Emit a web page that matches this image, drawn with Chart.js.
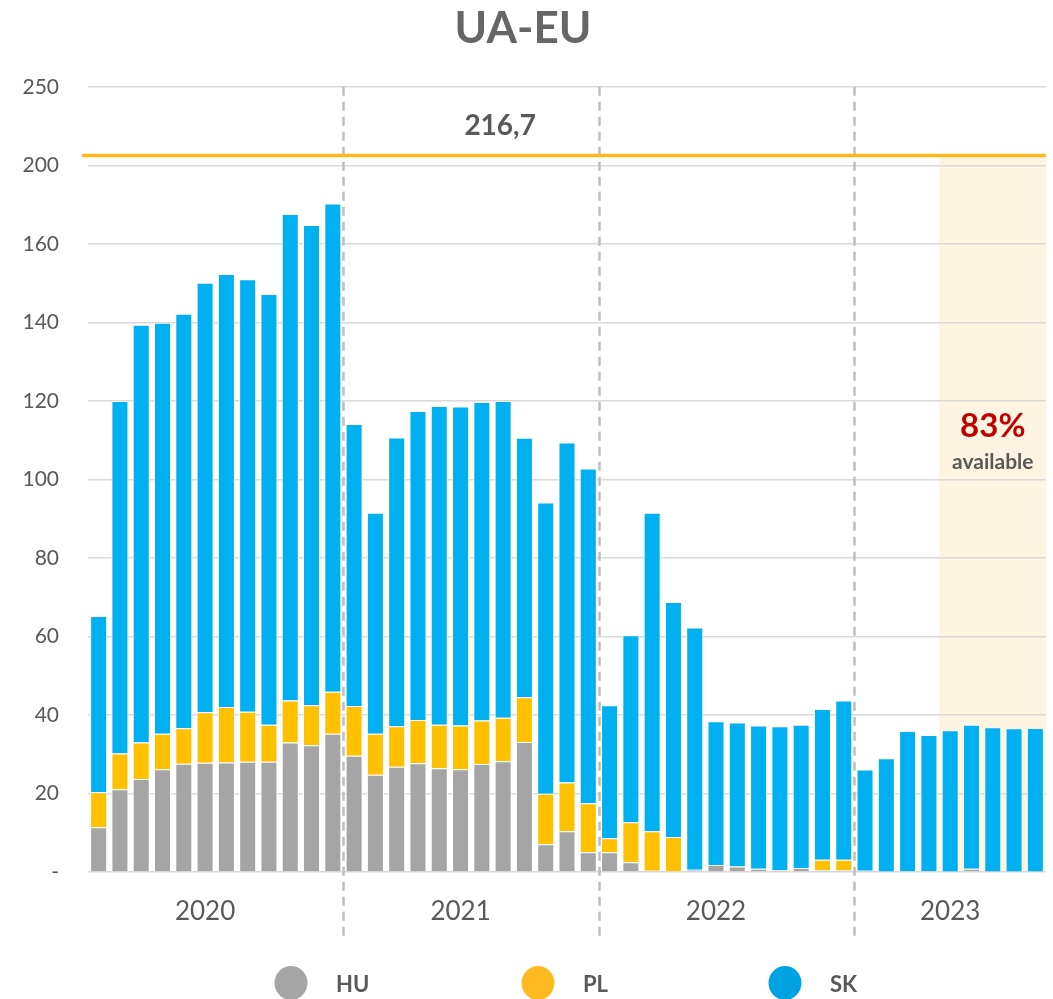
<!DOCTYPE html>
<html>
<head>
<meta charset="utf-8">
<script src="https://cdn.jsdelivr.net/npm/chart.js@4.4.1/dist/chart.umd.min.js"></script>
<style>
html,body{margin:0;padding:0;background:#ffffff;}
#wrap{width:1053px;height:999px;position:relative;}
canvas{display:block;}
</style>
</head>
<body>
<div id="wrap"><canvas id="c" width="1053" height="999"></canvas></div>
<script>
// ---------- DATA ----------
const categories = [
  '2020-01','2020-02','2020-03','2020-04','2020-05','2020-06','2020-07','2020-08','2020-09','2020-10','2020-11','2020-12',
  '2021-01','2021-02','2021-03','2021-04','2021-05','2021-06','2021-07','2021-08','2021-09','2021-10','2021-11','2021-12',
  '2022-01','2022-02','2022-03','2022-04','2022-05','2022-06','2022-07','2022-08','2022-09','2022-10','2022-11','2022-12',
  '2023-01','2023-02','2023-03','2023-04','2023-05','2023-06','2023-07','2023-08','2023-09'
];
const years = ['2020','2021','2022','2023'];
const yearStartIndex = [0, 12, 24, 36];
const yearMonthCount = [12, 12, 12, 9];

const huValues = [
  11.4,21.1,23.7,26.2,27.6,27.8,27.9,28.1,28.1,33.0,32.3,35.2,
  29.6,24.8,26.8,27.7,26.4,26.2,27.5,28.2,33.1,7.1,10.4,5.0,
  5.0,2.5,0.3,0.2,0.6,1.8,1.4,0.8,0.5,1.0,0.5,0.5,
  0.3,0.1,0.2,0.2,0.1,0.8,0.1,0.1,0.1
];
const plValues = [
  8.9,9.1,9.3,9.0,9.0,12.9,14.1,12.7,9.4,10.7,10.2,10.7,
  12.7,10.4,10.3,11.0,11.1,11.1,11.1,11.1,11.4,12.8,12.4,12.5,
  3.6,10.2,10.1,8.7,0,0,0,0,0,0,2.6,2.6,
  0,0,0,0,0,0,0,0,0
];
const skValues = [
  44.9,89.8,106.4,104.7,105.6,109.4,110.3,110.2,109.7,123.9,122.3,124.4,
  71.8,56.3,73.6,78.7,81.2,81.3,81.1,80.7,66.1,74.2,86.6,85.3,
  33.9,47.6,81.1,59.9,61.7,36.6,36.7,36.5,36.6,36.5,38.4,40.6,
  25.8,28.9,35.7,34.7,36.0,36.7,36.8,36.5,36.6
];

const yTickValues = [0,20,40,60,80,100,120,140,160,180,200];
const yTickLabels = ['-','20','40','60','80','100','120','140','160','200','250'];

const capacityLabel = '216,7';
const capacityAxisValue = 182.5;   // where the capacity line sits on the (broken) axis
const availableShareLabel = '83%';
const availableText = 'available';
const availableFromIndex = 40;      // first month of the highlighted period

const seriesNames = ['HU','PL','SK'];
const seriesColors = ['#A5A5A5','#FFC000','#00B0F0'];
const legendColors = ['#A5A5A5','#FFBA22','#00A3E0'];

// ---------- helpers ----------
const yearLabelAt = {};
years.forEach((y, k) => {
  yearLabelAt[yearStartIndex[k] + Math.floor((yearMonthCount[k] - 1) / 2)] = y;
});

const FONT = 'Lato, "Open Sans", "Noto Sans", sans-serif';
const TEXT = '#595959';

const overlay = {
  id: 'overlay',
  beforeDraw(chart) {
    const {ctx, chartArea: a, scales: {x, y}} = chart;
    const half = (x.getPixelForValue(1) - x.getPixelForValue(0)) / 2;
    const x0 = x.getPixelForValue(availableFromIndex) - half;
    const yTop = y.getPixelForValue(capacityAxisValue) + 2;
    ctx.save();
    ctx.fillStyle = '#FDF4E1';
    ctx.fillRect(x0, yTop, a.right - x0, a.bottom - yTop);
    ctx.restore();
  },
  afterDatasetsDraw(chart) {
    const {ctx, chartArea: a, scales: {x, y}} = chart;
    const half = (x.getPixelForValue(1) - x.getPixelForValue(0)) / 2;
    ctx.save();
    // year separators
    ctx.strokeStyle = '#BFBFBF';
    ctx.lineWidth = 2.5;
    ctx.setLineDash([9, 6]);
    for (let k = 1; k < yearStartIndex.length; k++) {
      const px = Math.round(x.getPixelForValue(yearStartIndex[k]) - half) + 0.5;
      ctx.beginPath();
      ctx.moveTo(px, a.top);
      ctx.lineTo(px, a.bottom + 68);
      ctx.stroke();
    }
    ctx.setLineDash([]);
    // capacity line
    const ly = y.getPixelForValue(capacityAxisValue);
    ctx.strokeStyle = '#FFB81C';
    ctx.lineWidth = 3.5;
    ctx.beginPath();
    ctx.moveTo(a.left - 6, ly);
    ctx.lineTo(a.right, ly);
    ctx.stroke();
    // capacity label
    ctx.fillStyle = TEXT;
    ctx.textAlign = 'center';
    ctx.textBaseline = 'middle';
    ctx.font = 'bold 28px ' + FONT;
    ctx.fillText(capacityLabel, x.getPixelForValue(19) - 3, ly - 30);
    // available share
    const x0 = x.getPixelForValue(availableFromIndex) - half;
    const cx = (x0 + a.right) / 2;
    ctx.fillStyle = '#C00000';
    ctx.font = 'bold 33px ' + FONT;
    ctx.fillText(availableShareLabel, cx, ly + 271);
    ctx.fillStyle = TEXT;
    ctx.font = 'bold 21px ' + FONT;
    ctx.fillText(availableText, cx, ly + 307);
    ctx.restore();
  },
  afterDraw(chart) {
    const {ctx} = chart;
    const centre = 538, gap = 247, cy = 983;
    ctx.save();
    ctx.font = 'bold 22px ' + FONT;
    ctx.textAlign = 'left';
    ctx.textBaseline = 'middle';
    seriesNames.forEach((name, i) => {
      const cx = centre + (i - 1) * gap;
      ctx.fillStyle = legendColors[i];
      ctx.beginPath();
      ctx.ellipse(cx, cy, 16.5, 17, 0, 0, Math.PI * 2);
      ctx.fill();
      ctx.fillStyle = TEXT;
      ctx.fillText(name, cx + 45, cy + 2);
    });
    ctx.restore();
  }
};

const mkSet = (i, data) => ({
  label: seriesNames[i],
  data: data,
  backgroundColor: seriesColors[i],
  borderColor: '#FFFFFF',
  borderWidth: 1,
  barPercentage: 0.8,
  categoryPercentage: 1.0
});

new Chart(document.getElementById('c'), {
  type: 'bar',
  data: {
    labels: categories,
    datasets: [mkSet(0, huValues), mkSet(1, plValues), mkSet(2, skValues)]
  },
  options: {
    responsive: false,
    animation: false,
    devicePixelRatio: 1,
    layout: {padding: {left: 0, right: 7, top: 0, bottom: 0}},
    plugins: {
      legend: {display: false},
      tooltip: {enabled: false},
      title: {
        display: true,
        text: 'UA-EU',
        color: '#666666',
        font: {family: FONT, size: 44, weight: 'bold'},
        padding: {top: 2, bottom: 32}
      }
    },
    scales: {
      x: {
        stacked: true,
        grid: {display: false, drawTicks: false},
        border: {display: false},
        ticks: {
          autoSkip: false, maxRotation: 0, minRotation: 0,
          padding: 0, color: TEXT,
          font: {family: FONT, size: 26, lineHeight: 3.08},
          callback: (v, i) => yearLabelAt[i] || ''
        },
        afterFit: s => { s.height = 127; }
      },
      y: {
        stacked: true,
        min: 0, max: 200,
        grid: {color: '#D9D9D9', lineWidth: 1.5, drawTicks: false},
        border: {display: false},
        afterBuildTicks: s => { s.ticks = yTickValues.map(v => ({value: v})); },
        ticks: {
          padding: 29, color: TEXT,
          font: {family: FONT, size: 21},
          callback: (v, i) => yTickLabels[i]
        },
        afterFit: s => { s.width = 88; }
      }
    }
  },
  plugins: [overlay]
});
</script>
</body>
</html>
